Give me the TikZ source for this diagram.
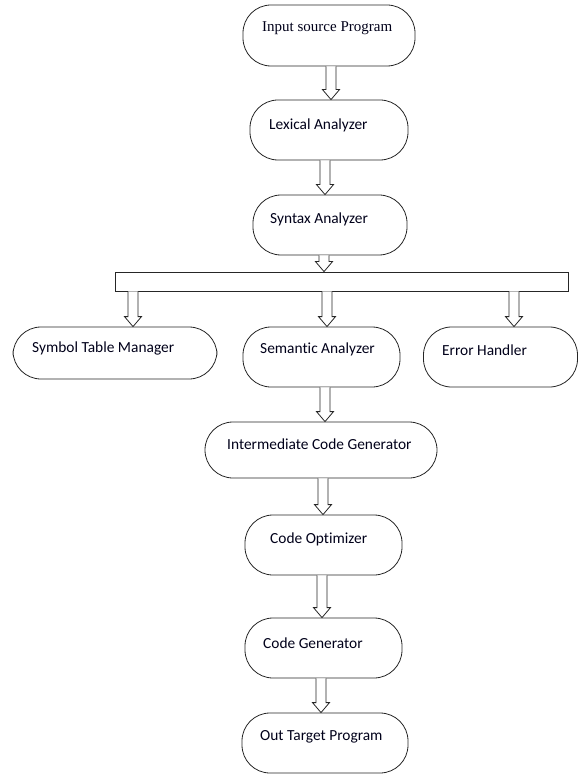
\documentclass[tikz,border=0pt]{standalone}
\usepackage{fontspec}
\setmainfont{Carlito}[Ligatures=NoCommon]
\newfontfamily\serifx{Liberation Serif}
\usetikzlibrary{calc}
\tikzset{
  pill/.style={draw=black!85, line width=0.8pt, rounded corners=28pt, inner sep=0pt},
  barbox/.style={draw=black!85, line width=0.8pt, inner sep=0pt},
  lbl/.style={anchor=west, inner sep=0pt, text=black!90!blue, font=\fontsize{15.4}{17}\selectfont},
  arrowline/.style={draw=black!85, line width=0.8pt, fill=white, line join=miter}
}
\newcommand\blockarrow[3]{%
  \draw[arrowline] let \p1=(#1), \p2=(#2), \p3=(#3,0) in
    (\x3-5pt,\y1) -- (\x3-5pt,\y2+10pt) -- (\x3-8.5pt,\y2+10pt) -- (\x3,\y2)
    -- (\x3+8.5pt,\y2+10pt) -- (\x3+5pt,\y2+10pt) -- (\x3+5pt,\y1);}
\begin{document}
\begin{tikzpicture}[x=1pt,y=-1pt]
\useasboundingbox (0,0) rectangle (579,775);
% boxes
\node[pill, minimum width=172pt, minimum height=61pt] (inp) at (329,35.5) {};
\node[pill, minimum width=158pt, minimum height=60pt] (lex) at (329,130) {};
\node[pill, minimum width=154pt, minimum height=60pt] (syn) at (330,225) {};
\node[barbox, minimum width=453pt, minimum height=19pt] (bar) at (341.5,281.5) {};
\node[pill, minimum width=204pt, minimum height=52pt] (sym) at (115,353) {};
\node[pill, minimum width=157pt, minimum height=60pt] (sem) at (321.5,357) {};
\node[pill, minimum width=154pt, minimum height=60pt] (err) at (500.5,357) {};
\node[pill, minimum width=232pt, minimum height=56pt] (inter) at (321,450) {};
\node[pill, minimum width=157pt, minimum height=60pt] (opt) at (323.5,545) {};
\node[pill, minimum width=157pt, minimum height=60pt] (cg) at (323.5,648) {};
\node[pill, minimum width=166pt, minimum height=60pt] (out) at (325,743) {};
% texts
\node[lbl, font=\serifx\fontsize{15}{17}\selectfont] (tinp) at (262,28) {Input source Program};
\node[lbl] (tlex) at (269,125) {Lexical Analyzer};
\node[lbl] (tsyn) at (270,219) {Syntax Analyzer};
\node[lbl] (tsym) at (32,348) {Symbol Table Manager};
\node[lbl] (tsem) at (260,349) {Semantic Analyzer};
\node[lbl] (terr) at (442,350) {Error Handler};
\node[lbl] (tinter) at (227,444) {Intermediate Code Generator};
\node[lbl] (topt) at (270,539) {Code Optimizer};
\node[lbl] (tcg) at (263,643) {Code Generator};
\node[lbl] (tout) at (260,737) {Out Target Program};
% arrows
\blockarrow{inp.south}{lex.north}{331}
\blockarrow{lex.south}{syn.north}{325}
\blockarrow{syn.south}{bar.north}{324}
\blockarrow{bar.south}{sym.north}{133}
\blockarrow{bar.south}{sem.north}{327}
\blockarrow{bar.south}{err.north}{514}
\blockarrow{sem.south}{inter.north}{325}
\blockarrow{inter.south}{opt.north}{323}
\blockarrow{opt.south}{cg.north}{322}
\blockarrow{cg.south}{out.north}{321}
\end{tikzpicture}
\end{document}
